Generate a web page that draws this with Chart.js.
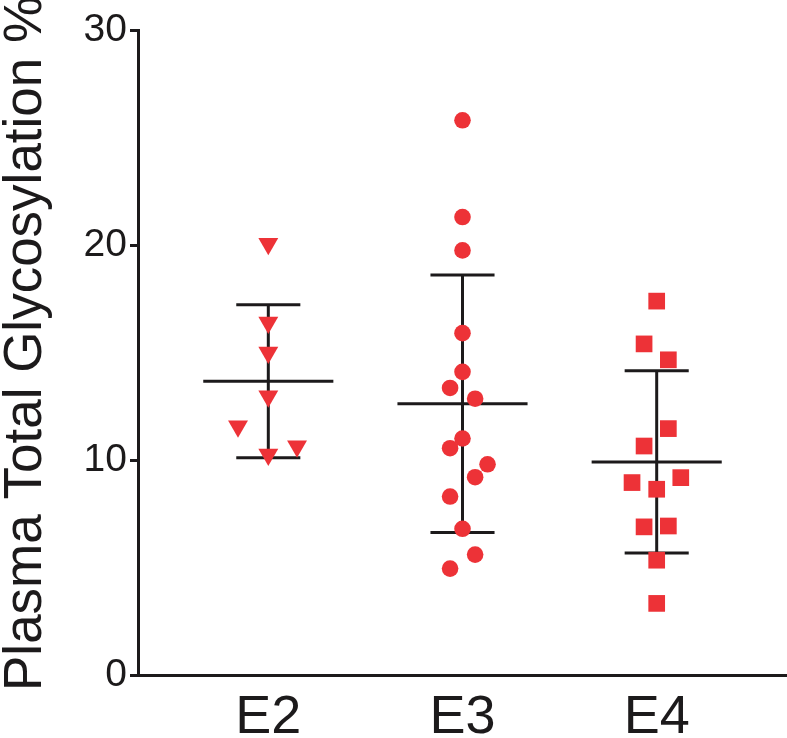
<!DOCTYPE html>
<html>
<head>
<meta charset="utf-8">
<script src="https://cdn.jsdelivr.net/npm/chart.js@4.4.1/dist/chart.umd.min.js"></script>
<style>
  html, body { margin: 0; padding: 0; background: #fff; }
  #chart { display: block; }
</style>
</head>
<body>
<canvas id="chart" width="787" height="738"></canvas>
<script>
// groups on the x axis
const categories = ['E2', 'E3', 'E4'];

// individual values per group, with the small sideways jitter seen in the plot
const e2Values = [20.06, 16.4, 15.0, 12.96, 11.57, 10.26, 10.64];
const e2Offsets = [0, 0, 0, 0, -0.156, 0, 0.148];
const e3Values = [25.8, 21.3, 19.75, 15.9, 14.1, 13.35, 12.85, 11.0, 10.55, 9.8, 9.2, 8.3, 6.8, 5.6, 4.95];
const e3Offsets = [0, 0, 0, 0, 0, -0.064, 0.065, 0, -0.064, 0.129, 0.065, -0.064, 0, 0.065, -0.064];
const e4Values = [17.39, 15.4, 14.66, 11.46, 10.65, 8.95, 9.18, 8.64, 6.89, 6.93, 5.34, 3.33];
const e4Offsets = [0, -0.065, 0.06, 0.06, -0.065, -0.127, 0.124, 0, -0.065, 0.06, 0, 0];

// mean and SD bars
const means = [13.66, 12.62, 9.91];
const sds = [3.56, 5.99, 4.24];

const yTicks = [0, 10, 20, 30];
const yTitle = 'Plasma Total Glycosylation %';

const red = '#ed3237';
const ink = '#1c1a1b';
const sans = "'Liberation Sans', Arial, Helvetica, sans-serif";

const groups = [
  { values: e2Values, offsets: e2Offsets, style: 'triangle', rotation: 180, radius: 11.5 },
  { values: e3Values, offsets: e3Offsets, style: 'circle', rotation: 0, radius: 8.3 },
  { values: e4Values, offsets: e4Offsets, style: 'rect', rotation: 0, radius: 11.8 }
];

const datasets = [];
groups.forEach((g, i) => {
  datasets.push({
    label: categories[i],
    data: g.values.map((v, j) => ({ x: i + 1 + g.offsets[j], y: v })),
    pointStyle: g.style,
    rotation: g.rotation,
    pointRadius: g.radius,
    pointBackgroundColor: red,
    pointBorderWidth: 0,
    order: 0
  });
});

// mean line, whiskers and caps
function seg(x1, y1, x2, y2) {
  return {
    data: [{ x: x1, y: y1 }, { x: x2, y: y2 }],
    showLine: true,
    borderColor: ink,
    borderWidth: 3,
    borderCapStyle: 'butt',
    pointRadius: 0,
    order: 1
  };
}
means.forEach((m, i) => {
  const c = i + 1;
  const lo = m - sds[i], hi = m + sds[i];
  datasets.push(seg(c - 0.335, m, c + 0.335, m));
  datasets.push(seg(c, lo, c, hi));
  datasets.push(seg(c - 0.165, hi, c + 0.165, hi));
  datasets.push(seg(c - 0.165, lo, c + 0.165, lo));
});

// y axis title, placed like the original (starts just below the axis end)
const yTitlePlugin = {
  id: 'yTitle',
  afterDraw(chart) {
    const ctx = chart.ctx;
    ctx.save();
    ctx.translate(41, chart.scales.y.bottom + 16);
    ctx.rotate(-Math.PI / 2);
    ctx.font = '53px ' + sans;
    ctx.fillStyle = ink;
    ctx.textAlign = 'left';
    ctx.textBaseline = 'alphabetic';
    ctx.fillText(yTitle, 0, 0);
    ctx.restore();
  }
};

new Chart(document.getElementById('chart'), {
  type: 'scatter',
  data: { datasets: datasets },
  plugins: [yTitlePlugin],
  options: {
    responsive: false,
    animation: false,
    events: [],
    layout: { autoPadding: false, padding: { top: 30, right: 0, bottom: 0, left: 0 } },
    plugins: { legend: { display: false }, tooltip: { enabled: false } },
    scales: {
      x: {
        type: 'linear',
        min: 0.329,
        max: 3.671,
        afterBuildTicks: (s) => { s.ticks = categories.map((c, i) => ({ value: i + 1 })); },
        afterFit: (s) => { s.height = 63; },
        ticks: {
          callback: (v) => categories[Math.round(v) - 1],
          color: ink,
          font: { family: sans, size: 54 },
          padding: 11,
          maxRotation: 0
        },
        grid: { display: false, drawTicks: false },
        border: { display: true, color: ink, width: 3 }
      },
      y: {
        min: 0,
        max: 30,
        afterBuildTicks: (s) => { s.ticks = yTicks.map(v => ({ value: v })); },
        afterFit: (s) => { s.width = 138; },
        ticks: {
          color: ink,
          font: { family: sans, size: 39 },
          padding: 3
        },
        grid: {
          display: true,
          drawOnChartArea: false,
          drawTicks: true,
          tickLength: 8,
          tickWidth: 3,
          tickColor: ink,
          lineWidth: 3,
          color: ink
        },
        border: { display: true, color: ink, width: 3 }
      }
    }
  }
});
</script>
</body>
</html>
